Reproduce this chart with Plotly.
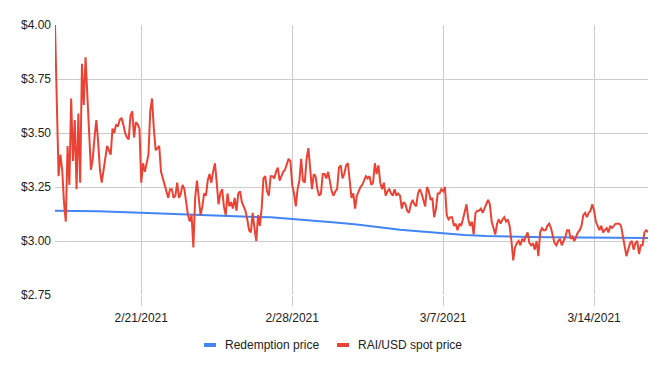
import pandas as pd
import plotly.graph_objects as go

# ---------------- data ----------------
series_names = ["Redemption price", "RAI/USD spot price"]

# redemption price, one value per day (00:00) plus the last half day
redemption_dates = ["2021-02-17 00:00", "2021-02-18 00:00", "2021-02-19 00:00", "2021-02-20 00:00",
                    "2021-02-21 00:00", "2021-02-22 00:00", "2021-02-23 00:00", "2021-02-24 00:00",
                    "2021-02-25 00:00", "2021-02-26 00:00", "2021-02-27 00:00", "2021-02-28 00:00",
                    "2021-03-01 00:00", "2021-03-02 00:00", "2021-03-03 00:00", "2021-03-04 00:00",
                    "2021-03-05 00:00", "2021-03-06 00:00", "2021-03-07 00:00", "2021-03-08 00:00",
                    "2021-03-09 00:00", "2021-03-10 00:00", "2021-03-11 00:00", "2021-03-12 00:00",
                    "2021-03-13 00:00", "2021-03-14 00:00", "2021-03-15 00:00", "2021-03-16 00:00",
                    "2021-03-16 12:00"]
redemption_price = [3.140, 3.140, 3.138, 3.134, 3.130, 3.127, 3.123, 3.120, 3.115, 3.112,
                    3.110, 3.103, 3.096, 3.086, 3.076, 3.064, 3.052, 3.044, 3.035, 3.028,
                    3.023, 3.019, 3.018, 3.017, 3.016, 3.015, 3.015, 3.014, 3.014]

# RAI/USD spot price, every 2 hours from 2021-02-17 00:00
spot_start = "2021-02-17 00:00"
spot_step = "2h"
spot_price = [
    4.00, 3.64, 3.30, 3.40, 3.33, 3.18, 3.09, 3.44, 3.26, 3.66, 3.37, 3.56,  # 2/17
    3.24, 3.59, 3.27, 3.82, 3.63, 3.85, 3.63, 3.50, 3.33, 3.38, 3.48, 3.56,  # 2/18
    3.46, 3.33, 3.27, 3.32, 3.38, 3.44, 3.42, 3.40, 3.52, 3.50, 3.54, 3.53,  # 2/19
    3.56, 3.57, 3.54, 3.50, 3.48, 3.47, 3.58, 3.60, 3.48, 3.55, 3.54, 3.52,  # 2/20
    3.27, 3.36, 3.32, 3.36, 3.40, 3.60, 3.66, 3.52, 3.42, 3.43, 3.44, 3.32,  # 2/21
    3.29, 3.25, 3.22, 3.20, 3.24, 3.24, 3.20, 3.21, 3.27, 3.20, 3.22, 3.26,  # 2/22
    3.24, 3.18, 3.12, 3.09, 3.12, 2.97, 3.20, 3.28, 3.21, 3.12, 3.16, 3.22,  # 2/23
    3.21, 3.28, 3.31, 3.27, 3.32, 3.36, 3.27, 3.17, 3.22, 3.24, 3.16, 3.12,  # 2/24
    3.22, 3.16, 3.18, 3.15, 3.20, 3.14, 3.22, 3.23, 3.18, 3.16, 3.14, 3.10,  # 2/25
    3.05, 3.04, 3.13, 3.06, 3.00, 3.12, 3.07, 3.15, 3.29, 3.30, 3.23, 3.21,  # 2/26
    3.30, 3.30, 3.29, 3.32, 3.34, 3.28, 3.30, 3.32, 3.33, 3.36, 3.38, 3.37,  # 2/27
    3.26, 3.22, 3.16, 3.24, 3.28, 3.38, 3.28, 3.27, 3.38, 3.43, 3.31, 3.24,  # 2/28
    3.31, 3.30, 3.24, 3.21, 3.22, 3.31, 3.31, 3.29, 3.32, 3.27, 3.23, 3.21,  # 3/1
    3.23, 3.24, 3.34, 3.35, 3.29, 3.31, 3.35, 3.36, 3.26, 3.20, 3.22, 3.15,  # 3/2
    3.21, 3.23, 3.25, 3.26, 3.28, 3.30, 3.29, 3.30, 3.26, 3.27, 3.36, 3.31,  # 3/3
    3.35, 3.27, 3.24, 3.27, 3.21, 3.23, 3.24, 3.22, 3.21, 3.24, 3.21, 3.22,  # 3/4
    3.21, 3.15, 3.18, 3.17, 3.14, 3.13, 3.17, 3.19, 3.17, 3.16, 3.22, 3.24,  # 3/5
    3.22, 3.19, 3.16, 3.25, 3.23, 3.19, 3.20, 3.11, 3.15, 3.22, 3.22, 3.24,  # 3/6
    3.23, 3.25, 3.12, 3.10, 3.11, 3.11, 3.07, 3.08, 3.05, 3.08, 3.07, 3.10,  # 3/7
    3.13, 3.17, 3.10, 3.07, 3.09, 3.03, 3.13, 3.14, 3.14, 3.15, 3.13, 3.15,  # 3/8
    3.17, 3.19, 3.17, 3.09, 3.06, 3.03, 3.08, 3.10, 3.08, 3.10, 3.11, 3.09,  # 3/9
    3.10, 3.07, 3.00, 2.91, 2.97, 2.99, 3.00, 2.98, 3.01, 3.00, 3.02, 3.04,  # 3/10
    2.99, 2.98, 2.99, 2.96, 3.00, 2.93, 3.04, 3.06, 3.05, 3.05, 3.07, 3.08,  # 3/11
    3.06, 3.02, 2.99, 2.98, 3.00, 3.01, 2.98, 3.00, 3.02, 3.05, 3.05, 3.01,  # 3/12
    3.02, 3.00, 3.02, 3.04, 3.05, 3.07, 3.12, 3.13, 3.11, 3.13, 3.14, 3.17,  # 3/13
    3.14, 3.09, 3.07, 3.05, 3.07, 3.04, 3.05, 3.06, 3.04, 3.07, 3.06, 3.07,  # 3/14
    3.08, 3.08, 3.08, 3.07, 3.02, 2.97, 2.93, 2.96, 2.99, 3.00, 2.96, 2.99,  # 3/15
    3.00, 2.94, 2.98, 2.98, 3.04, 3.05, 3.04,                                # 3/16
]

y_ticks = [2.75, 3.00, 3.25, 3.50, 3.75, 4.00]
y_tick_labels = ["$2.75", "$3.00", "$3.25", "$3.50", "$3.75", "$4.00"]
x_ticks = ["2021-02-21", "2021-02-28", "2021-03-07", "2021-03-14"]
x_tick_labels = ["2/21/2021", "2/28/2021", "3/7/2021", "3/14/2021"]

# ---------------- style ----------------
BLUE = "#4285F4"
RED = "#EA4335"
GRID = "#cccccc"
TEXT = "#222222"
FONT = "Liberation Sans, Arial, sans-serif"

W, H = 666, 371
PL, PR, PT, PB = 55, 648, 25, 295  # plot area in pixels


def px_x(p):
    return (p - PL) / (PR - PL)


def px_y(p):
    return (PB - p) / (PB - PT)


spot_dates = pd.date_range(spot_start, periods=len(spot_price), freq=spot_step)
red_dates = pd.to_datetime(redemption_dates, format="%Y-%m-%d %H:%M")

fig = go.Figure()
fig.add_trace(go.Scatter(x=red_dates, y=redemption_price,
                         mode="lines", name=series_names[0],
                         line=dict(color=BLUE, width=2), showlegend=False))
fig.add_trace(go.Scatter(x=spot_dates, y=spot_price,
                         mode="lines", name=series_names[1],
                         line=dict(color=RED, width=2), showlegend=False))

fig.update_layout(
    width=W, height=H,
    margin=dict(l=PL, r=W - PR, t=PT, b=H - PB, pad=0, autoexpand=False),
    paper_bgcolor="white", plot_bgcolor="white",
    font=dict(family=FONT, size=12, color=TEXT),
    xaxis=dict(
        range=[spot_dates[0], spot_dates[-1]],
        tickvals=pd.to_datetime(x_ticks), ticktext=x_tick_labels,
        showgrid=True, gridcolor=GRID, gridwidth=1,
        ticks="outside", ticklen=10, tickcolor=GRID, tickwidth=1,
        showline=False, zeroline=False, automargin=False,
        ticklabelstandoff=2,
        tickfont=dict(family=FONT, size=12, color=TEXT),
    ),
    yaxis=dict(
        range=[2.75, 4.00],
        tickvals=y_ticks, ticktext=y_tick_labels,
        showgrid=True, gridcolor=GRID, gridwidth=1,
        showline=False, zeroline=False, ticks="", automargin=False,
        ticklabelstandoff=3,
        tickfont=dict(family=FONT, size=12, color=TEXT),
    ),
)

# legend drawn as swatches + text below the plot
legend_items = [(series_names[0], BLUE, 204), (series_names[1], RED, 337)]
for name, color, left in legend_items:
    fig.add_shape(type="rect", xref="paper", yref="paper",
                  x0=px_x(left), x1=px_x(left + 12), y0=px_y(347), y1=px_y(343),
                  fillcolor=color, line=dict(width=0))
    fig.add_annotation(xref="paper", yref="paper", x=px_x(left + 19), y=px_y(345),
                       text=name, showarrow=False, xanchor="left", yanchor="middle",
                       font=dict(family=FONT, size=12, color=TEXT))

fig.write_html("out.html", config={"displayModeBar": False},
               post_script="document.body.style.margin='0';document.body.style.overflow='hidden';")
